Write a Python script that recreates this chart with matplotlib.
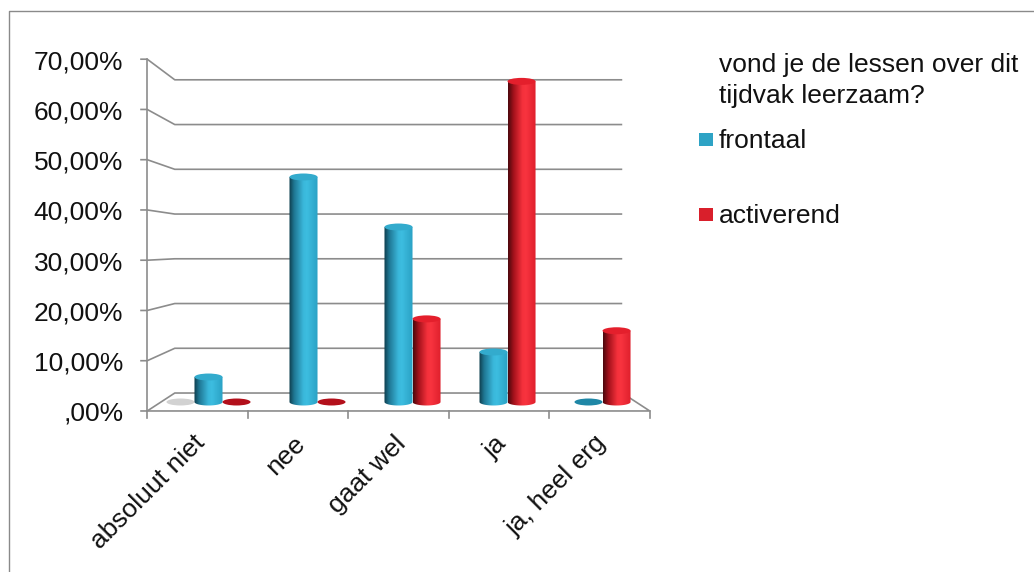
import numpy as np
import matplotlib
matplotlib.use('Agg')
import matplotlib.pyplot as plt
from matplotlib.patches import Ellipse, Polygon, Rectangle
from matplotlib.colors import LinearSegmentedColormap
from matplotlib.transforms import IdentityTransform

plt.rcParams['font.family'] = ['Liberation Sans', 'DejaVu Sans']

categories = ['absoluut niet', 'nee', 'gaat wel', 'ja', 'ja, heel erg']
vraag = [0.0, None, None, None, None]
frontaal = [5.26, 47.37, 36.84, 10.53, 0.0]
activerend = [0.0, 0.0, 17.5, 67.5, 15.0]
series_names = [['vond je de lessen over dit', 'tijdvak leerzaam?'], 'frontaal', 'activerend']
y_ticks = [0, 10, 20, 30, 40, 50, 60, 70]
y_tick_labels = [',00%', '10,00%', '20,00%', '30,00%', '40,00%', '50,00%', '60,00%', '70,00%']

GRID = '#8c8c8c'
FS = 19

# cylinder shading, dark left edge -> highlight -> body colour
blue_cmap = LinearSegmentedColormap.from_list(
    'blue_cyl', [(0, '#0e3a48'), (0.18, '#1f7794'), (0.5, '#3ab8db'),
                 (0.62, '#3dbde0'), (1, '#2aa1c4')])
red_cmap = LinearSegmentedColormap.from_list(
    'red_cyl', [(0, '#4a080d'), (0.2, '#a5121c'), (0.5, '#f5313c'),
                (0.62, '#f8343f'), (1, '#dc1e2a')])

BAR_W = 0.295        # cylinder width, in category units
ELL_H = 1.47         # ellipse height, in value units
XC = 2.0             # horizontal centre of the plot box


def proj(x, v, d):
    """oblique view: d=-1 front plane, 0 middle (bars), 1 back wall"""
    k = 1 - 0.058 * d
    return XC + (x - XC) * k, v * k + 1.89 * d


def cylinder(ax, x, val, cmap, top_color, z):
    theta = np.linspace(np.pi, 2 * np.pi, 60)
    bx = x + BAR_W / 2 * np.cos(theta)
    by = ELL_H / 2 * np.sin(theta)
    verts = list(zip(bx, by)) + [(x + BAR_W / 2, val), (x - BAR_W / 2, val)]
    clip = Polygon(verts, closed=True, transform=ax.transData,
                   facecolor='none', edgecolor='none')
    grad = np.linspace(0, 1, 256)[np.newaxis, :]
    im = ax.imshow(grad, cmap=cmap, aspect='auto', interpolation='bicubic',
                   extent=[x - BAR_W / 2, x + BAR_W / 2, -ELL_H, val + ELL_H],
                   zorder=z)
    im.set_clip_path(clip)
    ax.add_patch(Ellipse((x, val), BAR_W, ELL_H, facecolor=top_color,
                         edgecolor='none', zorder=z + 0.1))


fig = plt.figure(figsize=(10.34, 5.72), dpi=100)
ax = fig.add_axes([0, 0, 1, 1])
ax.set_axis_off()

# walls: left-side diagonals + back gridlines
for v in y_ticks:
    xf, yf = proj(-0.5, v, -1)
    xb, yb = proj(-0.5, v, 1)
    xr, yr = proj(4.5, v, 1)
    ax.plot([xf - 0.074, xf, xb, xr], [yf, yf, yb, yr], color=GRID, lw=1.2,
            zorder=1, solid_capstyle='butt')

# value axis line
x0, y0 = proj(-0.5, 0, -1)
x7, y7 = proj(-0.5, y_ticks[-1], -1)
ax.plot([x0, x7], [y0, y7], color=GRID, lw=1.2, zorder=1)

# floor front and right edge
xfr, yfr = proj(4.5, 0, -1)
xbr, ybr = proj(4.5, 0, 1)
ax.plot([x0, xfr, xbr], [y0, yfr, ybr], color=GRID, lw=1.2, zorder=1)
for i in range(len(categories) + 1):
    xt, yt = proj(i - 0.5, 0, -1)
    ax.plot([xt, xt], [yt, yt - 1.47], color=GRID, lw=1.2, zorder=1)

# value labels
for v, lab in zip(y_ticks, y_tick_labels):
    xf, yf = proj(-0.5, v, -1)
    ax.annotate(lab, xy=(xf, yf), xytext=(-24, -3), textcoords='offset pixels',
                ha='right', va='center', fontsize=FS, color='#111111')

# category labels
for i, cat in enumerate(categories):
    xt, yt = proj(i, 0, -1)
    ax.annotate(cat, xy=(xt, yt), xytext=(-5, -20), textcoords='offset pixels',
                ha='right', va='top', rotation=45, rotation_mode='anchor',
                fontsize=FS, color='#111111')

# bars
for i in range(len(categories)):
    if vraag[i] is not None:
        ax.add_patch(Ellipse((i - BAR_W, vraag[i]), BAR_W, ELL_H,
                             facecolor='#d2d2d2', edgecolor='none', zorder=3))
    if frontaal[i] > 0:
        cylinder(ax, i, frontaal[i], blue_cmap, '#33abcd', 4)
    else:
        ax.add_patch(Ellipse((i, 0), BAR_W, ELL_H, facecolor='#1f87a6',
                             edgecolor='none', zorder=4))
    if activerend[i] > 0:
        cylinder(ax, i + BAR_W, activerend[i], red_cmap, '#e41f2c', 5)
    else:
        ax.add_patch(Ellipse((i + BAR_W, 0), BAR_W, ELL_H, facecolor='#b3101b',
                             edgecolor='none', zorder=5))

ax.set_xlim(-0.5 - 161 / 95, -0.5 + (1034 - 161) / 95)
ax.set_ylim((402 - 572) / 4.75, 402 / 4.75)

# legend, drawn by hand in figure pixels
H = 572
px = IdentityTransform()
for line, base in zip(series_names[0], [72, 103]):
    fig.text(719, H - base, line, transform=px, fontsize=FS,
             va='baseline', color='#111111')
for name, col, base in [(series_names[1], '#2ea3c5', 148),
                        (series_names[2], '#d91f2b', 223)]:
    fig.patches.append(Rectangle((699, H - base + 2), 14, 13, transform=px,
                                 facecolor=col, edgecolor='none'))
    fig.text(719, H - base, name, transform=px, fontsize=FS,
             va='baseline', color='#111111')

# chart area border
ax.plot([8.5, 8.5, 1040], [-10, H - 10.5, H - 10.5], transform=px,
        color='#8a8a8a', lw=1.0, clip_on=False)

fig.savefig('out.png', dpi=100)
